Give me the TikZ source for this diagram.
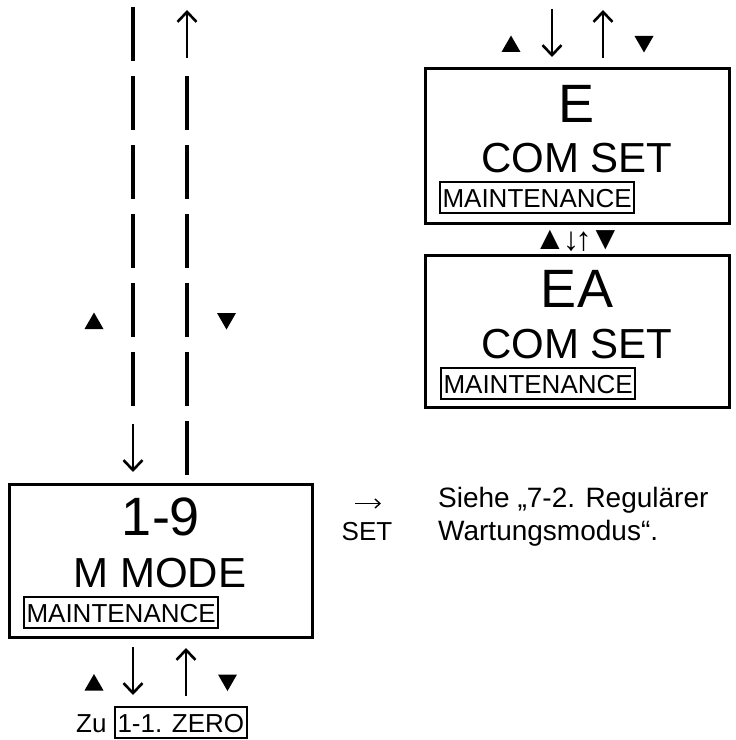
\documentclass[tikz,border=0pt]{standalone}
\usepackage{fontspec}
\setmainfont{Liberation Sans}
\usetikzlibrary{arrows.meta}
\begin{document}
\begin{tikzpicture}[x=1bp,y=-1bp]
\tikzset{
 panel/.style={draw, line width=3bp, inner sep=0pt, outer sep=0pt},
 bigtxt/.style={font=\fontsize{54bp}{54bp}\selectfont, inner sep=0pt, anchor=base},
 midtxt/.style={font=\fontsize{42bp}{42bp}\selectfont, inner sep=0pt, anchor=base},
 maint/.style={draw, line width=2bp, font=\fontsize{26bp}{26bp}\selectfont, text height=19bp, text depth=0pt, inner xsep=2.5bp, inner ysep=6bp, outer sep=0pt, anchor=base west},
 lbl/.style={font=\fontsize{26bp}{26bp}\selectfont, inner sep=0pt},
 note/.style={font=\fontsize{28bp}{28bp}\selectfont, inner sep=0pt, anchor=base west},
 smallglyph/.style={font=\fontsize{33bp}{33bp}\selectfont, inner sep=0pt, anchor=center},
 bigarr/.style={line width=2.6bp, -{Straight Barb[length=10bp,width=19bp]}},
 thinarr/.style={line width=1.4bp, -{Straight Barb[length=5bp,width=9bp]}},
 dashcol/.style={line width=4.5bp, dash pattern=on 54bp off 15bp},
 tup/.pic={\fill (-9.5,8) -- (9.5,8) -- (0,-8.5) -- cycle;},
 tdown/.pic={\fill (-9.5,-8) -- (9.5,-8) -- (0,8.5) -- cycle;},
}
\useasboundingbox (0,0) rectangle (736,740);

% left column
\coordinate (lt) at (133,7);
\coordinate (lb) at (133,407);
\coordinate (rt) at (187,76);
\coordinate (rb) at (187,475);
\draw[dashcol] (lt) -- (lb);
\draw[dashcol] (rt) -- (rb);
\coordinate (upTLa) at (187,58);
\coordinate (upTLb) at (187,10);
\draw[bigarr] (upTLa) -- (upTLb);
\coordinate (dnLa) at (133,424);
\coordinate (dnLb) at (133,472);
\draw[bigarr] (dnLa) -- (dnLb);
\pic at (94,321) {tup};
\pic at (226.5,321) {tdown};

% 1-9 box
\node[panel, minimum width=302bp, minimum height=153bp] (b19) at (161,560.5) {};
\node[bigtxt] (t19) at (161,535) {1-9};
\node[midtxt] (tmm) at (160,587) {M MODE};
\node[maint] (m19) at (24,622) {MAINTENANCE};

% below
\coordinate (dnBa) at (133,647);
\coordinate (dnBb) at (133,695);
\draw[bigarr] (dnBa) -- (dnBb);
\coordinate (upBa) at (186,696);
\coordinate (upBb) at (186,648);
\draw[bigarr] (upBa) -- (upBb);
\pic at (94,682.5) {tup};
\pic at (227.5,682.5) {tdown};
\node[lbl, anchor=base west] (zu) at (76,732) {Zu};
\node[maint] (zero) at (115,732) {1-1. ZERO};

% SET
\coordinate (arra) at (355,503.5);
\coordinate (arrb) at (381,503.5);
\draw[thinarr] (arra) -- (arrb);
\node[lbl, anchor=base] (set) at (367,540) {SET};
\node[note] (s1) at (438,507) {Siehe „7-2. Regulärer};
\node[note] (s2) at (438,540) {Wartungsmodus“.};

% top right
\pic at (511,44) {tup};
\coordinate (dnRa) at (552,9);
\coordinate (dnRb) at (552,57);
\draw[bigarr] (dnRa) -- (dnRb);
\coordinate (upRa) at (603,58);
\coordinate (upRb) at (603,10);
\draw[bigarr] (upRa) -- (upRb);
\pic at (644,44) {tdown};

% E box
\node[panel, minimum width=304bp, minimum height=154bp] (bE) at (577,146) {};
\node[bigtxt] (tE) at (577,122) {E};
\node[midtxt] (tc1) at (577,172) {COM SET};
\node[maint] (mE) at (440,207) {MAINTENANCE};

% small arrows
\node[smallglyph] (s_up) at (550,240) {▲};
\node[smallglyph] (s_dn) at (571,241.5) {↓};
\node[smallglyph] (s_ua) at (583.5,241.5) {↑};
\node[smallglyph] (s_tr) at (605.5,240) {▼};

% EA box
\node[panel, minimum width=304bp, minimum height=152bp] (bEA) at (577,331) {};
\node[bigtxt] (tEA) at (577,307) {EA};
\node[midtxt] (tc2) at (577,358) {COM SET};
\node[maint] (mEA) at (441,393) {MAINTENANCE};
\end{tikzpicture}
\end{document}
